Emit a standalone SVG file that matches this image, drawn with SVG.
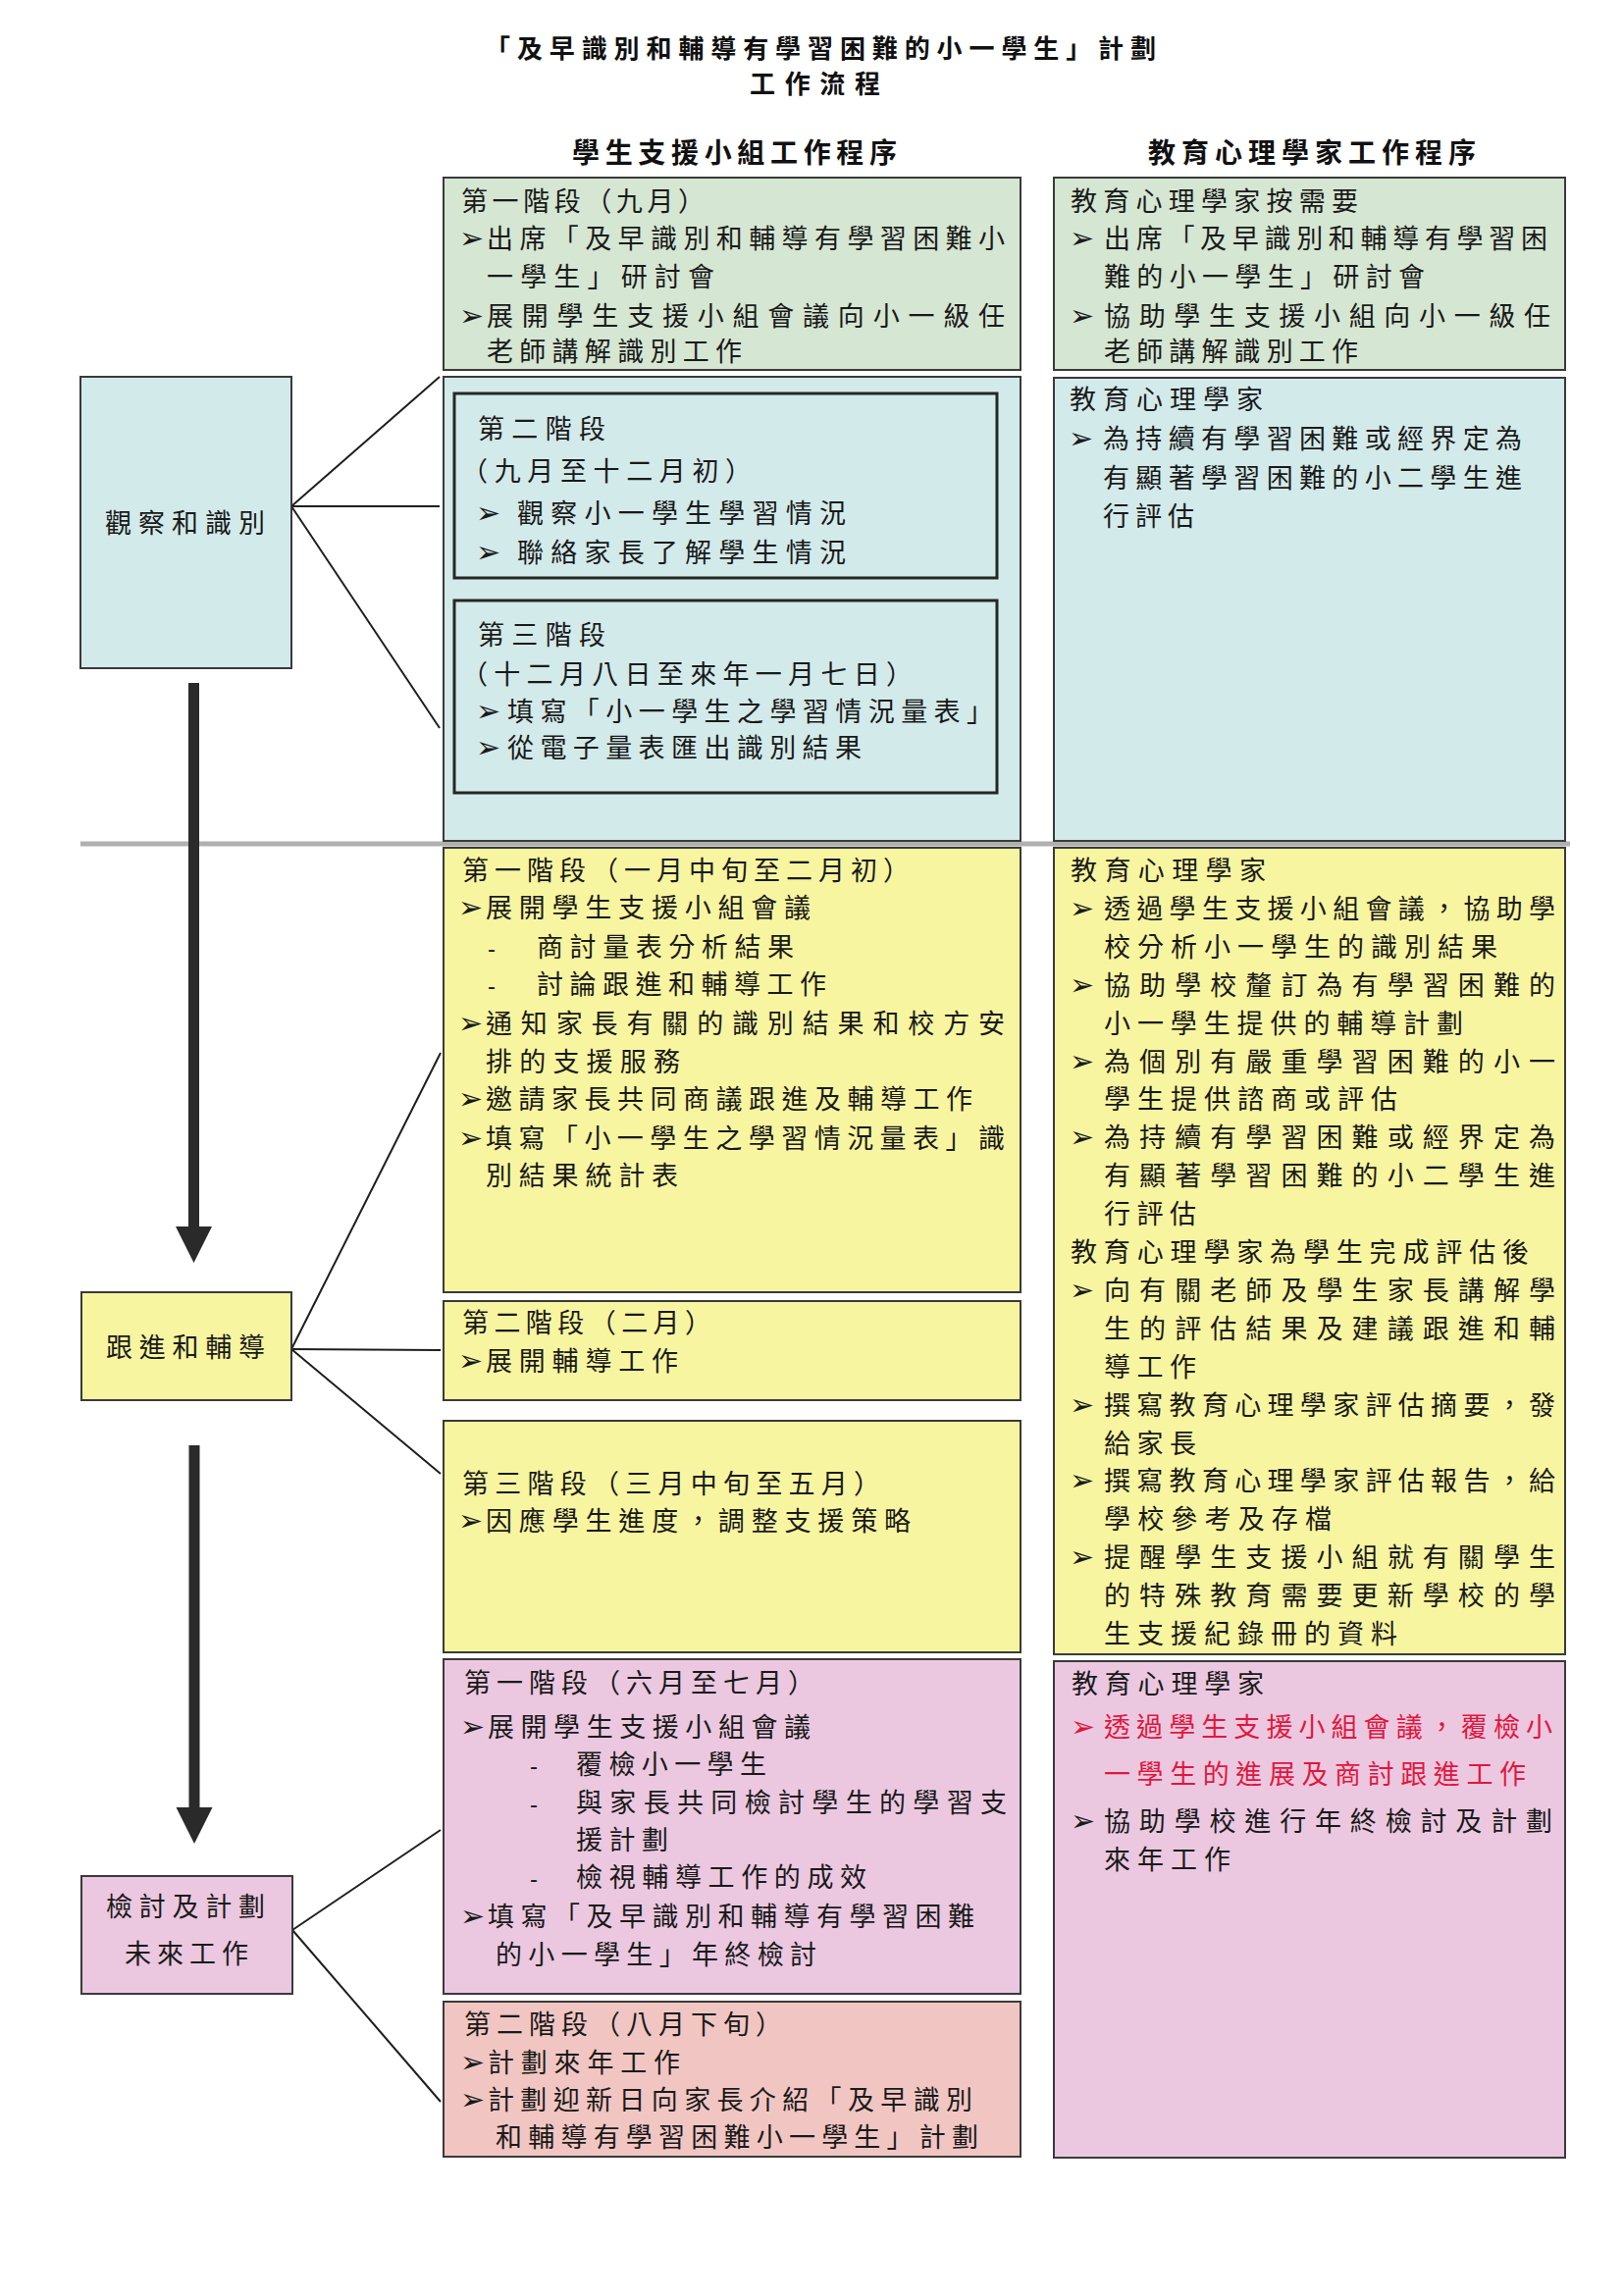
<svg xmlns="http://www.w3.org/2000/svg" width="1654" height="2340" viewBox="0 0 1654 2340">
<style>
.bx{stroke:#3a3a3a;stroke-width:2}
.in{fill:none;stroke:#262626;stroke-width:3}
.green{fill:#d5e6d2}
.blue{fill:#d3eaea}
.yellow{fill:#f8f5a0}
.pink{fill:#ebc8e0}
.salmon{fill:#f1c6c2}
.t{font-family:"Noto Sans CJK TC","Noto Sans CJK SC",sans-serif;font-size:27px;fill:#1a1a1a}
.h{font-family:"Noto Sans CJK TC","Noto Sans CJK SC",sans-serif;font-size:28px;font-weight:700;fill:#111}
.ti{font-family:"Noto Sans CJK TC","Noto Sans CJK SC",sans-serif;font-size:26px;font-weight:700;fill:#111}
.l{font-family:"Noto Sans CJK TC","Noto Sans CJK SC",sans-serif;font-size:27px;fill:#1a1a1a}
.b{font-family:"DejaVu Sans",sans-serif;font-size:30px;fill:#1a1a1a}
.d{font-family:"Liberation Sans",sans-serif;font-size:24px;fill:#1a1a1a}
.red{fill:#e0173e}
.cn{stroke:#1e1e1e;stroke-width:2;fill:none}
.shaft{stroke:#2a2a2a;stroke-width:11;fill:none}
</style>
<defs>
<marker id="bigArrow" markerUnits="userSpaceOnUse" viewBox="0 -19 37 38" refX="0" refY="0" markerWidth="37" markerHeight="38" orient="auto">
<path d="M0,-18.5 L37,0 L0,18.5 Z" fill="#2a2a2a"/>
</marker>
</defs>
<rect width="1654" height="2340" fill="#ffffff"/>

<g id="title">
<text class="ti" x="494" y="59" textLength="684" lengthAdjust="spacing">「及早識別和輔導有學習困難的小一學生」計劃</text>
<text class="ti" x="764" y="95" textLength="133" lengthAdjust="spacing">工作流程</text>
</g>
<g id="headers">
<text class="h" x="583" y="166" textLength="331" lengthAdjust="spacing">學生支援小組工作程序</text>
<text class="h" x="1170" y="166" textLength="334" lengthAdjust="spacing">教育心理學家工作程序</text>
</g>

<g id="separator">
<line x1="82" y1="860" x2="1600" y2="860" stroke="#b0b0b0" stroke-width="5"/>
</g>

<g id="connectors">
<line class="cn" x1="297" y1="516" x2="448" y2="384"/>
<line class="cn" x1="297" y1="516" x2="448" y2="516"/>
<line class="cn" x1="297" y1="516" x2="448" y2="742"/>
<line class="cn" x1="297" y1="1375" x2="449" y2="1073"/>
<line class="cn" x1="297" y1="1375" x2="449" y2="1376"/>
<line class="cn" x1="297" y1="1375" x2="449" y2="1502"/>
<line class="cn" x1="298" y1="1967" x2="449" y2="1865"/>
<line class="cn" x1="298" y1="1967" x2="449" y2="2142"/>
<line class="shaft" x1="197.5" y1="696" x2="197.5" y2="1250" marker-end="url(#bigArrow)"/>
<line class="shaft" x1="198" y1="1473" x2="198" y2="1842" marker-end="url(#bigArrow)"/>
</g>

<g id="stage-observe">
<rect class="bx blue" x="82" y="384" width="215" height="297"/>
<text class="l" x="107" y="543" textLength="163" lengthAdjust="spacing">觀察和識別</text>
</g>
<g id="stage-followup">
<rect class="bx yellow" x="83" y="1317" width="214" height="110"/>
<text class="l" x="108" y="1383" textLength="162" lengthAdjust="spacing">跟進和輔導</text>
</g>
<g id="stage-review">
<rect class="bx pink" x="83" y="1912" width="215" height="120"/>
<text class="l" x="108" y="1953" textLength="162" lengthAdjust="spacing">檢討及計劃</text>
<text class="l" x="127" y="2001" textLength="126" lengthAdjust="spacing">未來工作</text>
</g>

<g id="ssg-phase1-sep">
<rect class="bx green" x="452" y="181" width="588" height="196"/>
<text class="t" x="470" y="215" textLength="248" lengthAdjust="spacing">第一階段（九月）</text>
<text class="b" x="468" y="253">➢</text>
<text class="t" x="496" y="253" textLength="528" lengthAdjust="spacing">出席「及早識別和輔導有學習困難小</text>
<text class="t" x="496" y="292" textLength="232" lengthAdjust="spacing">一學生」研討會</text>
<text class="b" x="468" y="332">➢</text>
<text class="t" x="496" y="332" textLength="528" lengthAdjust="spacing">展開學生支援小組會議向小一級任</text>
<text class="t" x="496" y="368" textLength="260" lengthAdjust="spacing">老師講解識別工作</text>
</g>

<g id="ep-sep">
<rect class="bx green" x="1074" y="181" width="521" height="196"/>
<text class="t" x="1091" y="215" textLength="293" lengthAdjust="spacing">教育心理學家按需要</text>
<text class="b" x="1090" y="253">➢</text>
<text class="t" x="1125" y="253" textLength="452" lengthAdjust="spacing">出席「及早識別和輔導有學習困</text>
<text class="t" x="1125" y="292" textLength="327" lengthAdjust="spacing">難的小一學生」研討會</text>
<text class="b" x="1090" y="332">➢</text>
<text class="t" x="1125" y="332" textLength="455" lengthAdjust="spacing">協助學生支援小組向小一級任</text>
<text class="t" x="1125" y="368" textLength="259" lengthAdjust="spacing">老師講解識別工作</text>
</g>

<g id="ssg-phase2-3-observe">
<rect class="bx blue" x="452" y="384" width="588" height="473"/>
<g id="ssg-phase2">
<rect class="in" x="463" y="401" width="553" height="188"/>
<text class="t" x="487" y="447" textLength="130" lengthAdjust="spacing">第二階段</text>
<text class="t" x="470" y="490" textLength="296" lengthAdjust="spacing">（九月至十二月初）</text>
<text class="b" x="485" y="533">➢</text>
<text class="t" x="527" y="533" textLength="335" lengthAdjust="spacing">觀察小一學生學習情況</text>
<text class="b" x="485" y="573">➢</text>
<text class="t" x="527" y="573" textLength="335" lengthAdjust="spacing">聯絡家長了解學生情況</text>
</g>
<g id="ssg-phase3">
<rect class="in" x="463" y="612" width="553" height="196"/>
<text class="t" x="487" y="657" textLength="130" lengthAdjust="spacing">第三階段</text>
<text class="t" x="470" y="697" textLength="460" lengthAdjust="spacing">（十二月八日至來年一月七日）</text>
<text class="b" x="485" y="735">➢</text>
<text class="t" x="517" y="735" textLength="495" lengthAdjust="spacing">填寫「小一學生之學習情況量表」</text>
<text class="b" x="485" y="772">➢</text>
<text class="t" x="517" y="772" textLength="361" lengthAdjust="spacing">從電子量表匯出識別結果</text>
</g>
</g>

<g id="ep-observe">
<rect class="bx blue" x="1074" y="385" width="521" height="472"/>
<text class="t" x="1090" y="417" textLength="197" lengthAdjust="spacing">教育心理學家</text>
<text class="b" x="1089" y="457">➢</text>
<text class="t" x="1124" y="457" textLength="427" lengthAdjust="spacing">為持續有學習困難或經界定為</text>
<text class="t" x="1124" y="497" textLength="427" lengthAdjust="spacing">有顯著學習困難的小二學生進</text>
<text class="t" x="1124" y="536" textLength="93" lengthAdjust="spacing">行評估</text>
</g>

<g id="ssg-followup-phase1">
<rect class="bx yellow" x="452" y="864" width="588" height="453"/>
<text class="t" x="471" y="897" textLength="456" lengthAdjust="spacing">第一階段（一月中旬至二月初）</text>
<text class="b" x="467" y="935">➢</text>
<text class="t" x="495" y="935" textLength="331" lengthAdjust="spacing">展開學生支援小組會議</text>
<text class="d" x="497" y="975">-</text>
<text class="t" x="547" y="975" textLength="262" lengthAdjust="spacing">商討量表分析結果</text>
<text class="d" x="497" y="1013">-</text>
<text class="t" x="547" y="1013" textLength="295" lengthAdjust="spacing">討論跟進和輔導工作</text>
<text class="b" x="467" y="1053">➢</text>
<text class="t" x="495" y="1053" textLength="529" lengthAdjust="spacing">通知家長有關的識別結果和校方安</text>
<text class="t" x="495" y="1092" textLength="198" lengthAdjust="spacing">排的支援服務</text>
<text class="b" x="467" y="1130">➢</text>
<text class="t" x="495" y="1130" textLength="496" lengthAdjust="spacing">邀請家長共同商議跟進及輔導工作</text>
<text class="b" x="467" y="1170">➢</text>
<text class="t" x="495" y="1170" textLength="529" lengthAdjust="spacing">填寫「小一學生之學習情況量表」識</text>
<text class="t" x="495" y="1208" textLength="196" lengthAdjust="spacing">別結果統計表</text>
</g>

<g id="ssg-followup-phase2">
<rect class="bx yellow" x="452" y="1326" width="588" height="101"/>
<text class="t" x="471" y="1358" textLength="254" lengthAdjust="spacing">第二階段（二月）</text>
<text class="b" x="467" y="1397">➢</text>
<text class="t" x="495" y="1397" textLength="196" lengthAdjust="spacing">展開輔導工作</text>
</g>

<g id="ssg-followup-phase3">
<rect class="bx yellow" x="452" y="1448" width="588" height="236"/>
<text class="t" x="471" y="1522" textLength="426" lengthAdjust="spacing">第三階段（三月中旬至五月）</text>
<text class="b" x="467" y="1560">➢</text>
<text class="t" x="495" y="1560" textLength="433" lengthAdjust="spacing">因應學生進度，調整支援策略</text>
</g>

<g id="ep-followup">
<rect class="bx yellow" x="1074" y="864" width="521" height="822"/>
<text class="t" x="1091" y="897" textLength="199" lengthAdjust="spacing">教育心理學家</text>
<text class="b" x="1090" y="936">➢</text>
<text class="t" x="1125" y="936" textLength="460" lengthAdjust="spacing">透過學生支援小組會議，協助學</text>
<text class="t" x="1125" y="975" textLength="401" lengthAdjust="spacing">校分析小一學生的識別結果</text>
<text class="b" x="1090" y="1014">➢</text>
<text class="t" x="1125" y="1014" textLength="460" lengthAdjust="spacing">協助學校釐訂為有學習困難的</text>
<text class="t" x="1125" y="1053" textLength="366" lengthAdjust="spacing">小一學生提供的輔導計劃</text>
<text class="b" x="1090" y="1092">➢</text>
<text class="t" x="1125" y="1092" textLength="460" lengthAdjust="spacing">為個別有嚴重學習困難的小一</text>
<text class="t" x="1125" y="1130" textLength="299" lengthAdjust="spacing">學生提供諮商或評估</text>
<text class="b" x="1090" y="1169">➢</text>
<text class="t" x="1125" y="1169" textLength="460" lengthAdjust="spacing">為持續有學習困難或經界定為</text>
<text class="t" x="1125" y="1208" textLength="460" lengthAdjust="spacing">有顯著學習困難的小二學生進</text>
<text class="t" x="1125" y="1247" textLength="94" lengthAdjust="spacing">行評估</text>
<text class="t" x="1091" y="1286" textLength="467" lengthAdjust="spacing">教育心理學家為學生完成評估後</text>
<text class="b" x="1090" y="1325">➢</text>
<text class="t" x="1125" y="1325" textLength="460" lengthAdjust="spacing">向有關老師及學生家長講解學</text>
<text class="t" x="1125" y="1364" textLength="460" lengthAdjust="spacing">生的評估結果及建議跟進和輔</text>
<text class="t" x="1125" y="1403" textLength="94" lengthAdjust="spacing">導工作</text>
<text class="b" x="1090" y="1442">➢</text>
<text class="t" x="1125" y="1442" textLength="460" lengthAdjust="spacing">撰寫教育心理學家評估摘要，發</text>
<text class="t" x="1125" y="1481" textLength="94" lengthAdjust="spacing">給家長</text>
<text class="b" x="1090" y="1519">➢</text>
<text class="t" x="1125" y="1519" textLength="460" lengthAdjust="spacing">撰寫教育心理學家評估報告，給</text>
<text class="t" x="1125" y="1558" textLength="232" lengthAdjust="spacing">學校參考及存檔</text>
<text class="b" x="1090" y="1597">➢</text>
<text class="t" x="1125" y="1597" textLength="460" lengthAdjust="spacing">提醒學生支援小組就有關學生</text>
<text class="t" x="1125" y="1636" textLength="460" lengthAdjust="spacing">的特殊教育需要更新學校的學</text>
<text class="t" x="1125" y="1675" textLength="299" lengthAdjust="spacing">生支援紀錄冊的資料</text>
</g>

<g id="ssg-review-phase1">
<rect class="bx pink" x="452" y="1691" width="588" height="341"/>
<text class="t" x="473" y="1725" textLength="357" lengthAdjust="spacing">第一階段（六月至七月）</text>
<text class="b" x="469" y="1770">➢</text>
<text class="t" x="497" y="1770" textLength="329" lengthAdjust="spacing">展開學生支援小組會議</text>
<text class="d" x="540" y="1808">-</text>
<text class="t" x="587" y="1808" textLength="194" lengthAdjust="spacing">覆檢小一學生</text>
<text class="d" x="540" y="1847">-</text>
<text class="t" x="587" y="1847" textLength="439" lengthAdjust="spacing">與家長共同檢討學生的學習支</text>
<text class="t" x="587" y="1885" textLength="94" lengthAdjust="spacing">援計劃</text>
<text class="d" x="540" y="1923">-</text>
<text class="t" x="587" y="1923" textLength="296" lengthAdjust="spacing">檢視輔導工作的成效</text>
<text class="b" x="469" y="1963">➢</text>
<text class="t" x="497" y="1963" textLength="496" lengthAdjust="spacing">填寫「及早識別和輔導有學習困難</text>
<text class="t" x="505" y="2002" textLength="327" lengthAdjust="spacing">的小一學生」年終檢討</text>
</g>

<g id="ssg-review-phase2">
<rect class="bx salmon" x="452" y="2040" width="588" height="158"/>
<text class="t" x="473" y="2073" textLength="324" lengthAdjust="spacing">第二階段（八月下旬）</text>
<text class="b" x="469" y="2112">➢</text>
<text class="t" x="497" y="2112" textLength="196" lengthAdjust="spacing">計劃來年工作</text>
<text class="b" x="469" y="2150">➢</text>
<text class="t" x="497" y="2150" textLength="494" lengthAdjust="spacing">計劃迎新日向家長介紹「及早識別</text>
<text class="t" x="505" y="2188" textLength="492" lengthAdjust="spacing">和輔導有學習困難小一學生」計劃</text>
</g>

<g id="ep-review">
<rect class="bx pink" x="1074" y="1693" width="521" height="506"/>
<text class="t" x="1092" y="1726" textLength="196" lengthAdjust="spacing">教育心理學家</text>
<text class="b red" x="1091" y="1770">➢</text>
<text class="t red" x="1125" y="1770" textLength="457" lengthAdjust="spacing">透過學生支援小組會議，覆檢小</text>
<text class="t red" x="1125" y="1818" textLength="430" lengthAdjust="spacing">一學生的進展及商討跟進工作</text>
<text class="b" x="1091" y="1866">➢</text>
<text class="t" x="1125" y="1866" textLength="457" lengthAdjust="spacing">協助學校進行年終檢討及計劃</text>
<text class="t" x="1125" y="1905" textLength="129" lengthAdjust="spacing">來年工作</text>
</g>
</svg>
